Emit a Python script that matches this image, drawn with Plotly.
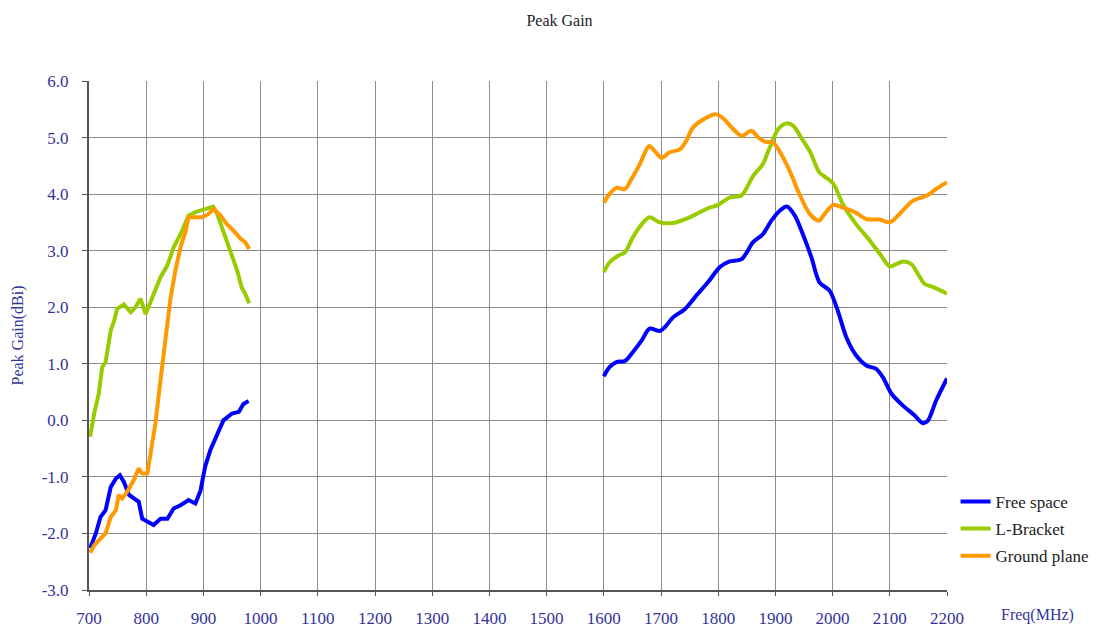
import plotly.graph_objects as go

# Banda baja (700-980 MHz)
f_bajo_free = [702, 712, 720, 729, 738, 747, 754, 761, 770, 778, 787, 793, 802, 813, 825, 837, 848, 860,
               874, 886, 895, 903, 912, 924, 935, 950, 962, 970, 979]
g_bajo_free = [-2.26, -2.0, -1.71, -1.59, -1.18, -1.03, -0.97, -1.09, -1.32, -1.38, -1.44, -1.74, -1.79,
               -1.85, -1.74, -1.74, -1.56, -1.5, -1.41, -1.47, -1.24, -0.82, -0.53, -0.24, 0.0, 0.12,
               0.15, 0.29, 0.34]

f_bajo_lb = [702, 709, 717, 723, 729, 738, 744, 749, 761, 773, 781, 790, 799, 808, 816, 825, 837, 848,
             860, 874, 886, 901, 917, 924, 935, 947, 959, 967, 973, 980]
g_bajo_lb = [-0.29, 0.12, 0.47, 0.94, 1.03, 1.59, 1.76, 1.97, 2.05, 1.91, 2.0, 2.15, 1.88, 2.12, 2.29,
             2.53, 2.74, 3.06, 3.29, 3.62, 3.68, 3.72, 3.78, 3.65, 3.35, 3.0, 2.65, 2.35, 2.24, 2.07]

f_bajo_gp = [702, 709, 720, 729, 738, 747, 752, 758, 767, 778, 787, 793, 802, 808, 816, 825, 834, 842,
             851, 860, 869, 874, 886, 898, 909, 918, 930, 941, 953, 965, 973, 980]
g_bajo_gp = [-2.34, -2.21, -2.09, -2.0, -1.71, -1.59, -1.32, -1.38, -1.26, -1.06, -0.85, -0.94, -0.94,
             -0.59, -0.06, 0.71, 1.41, 2.12, 2.65, 3.06, 3.35, 3.59, 3.59, 3.59, 3.65, 3.74, 3.62,
             3.47, 3.35, 3.21, 3.15, 3.03]

# Banda alta (1600-2200 MHz)
f_alto_free = [1600, 1610, 1622, 1637, 1651, 1666, 1680, 1698, 1707, 1721, 1742, 1762, 1782, 1803, 1820,
               1841, 1861, 1878, 1893, 1908, 1920, 1934, 1948, 1963, 1977, 1995, 2009, 2024, 2041,
               2059, 2076, 2088, 2103, 2123, 2143, 2158, 2167, 2181, 2200]
g_alto_free = [0.78, 0.94, 1.03, 1.05, 1.21, 1.41, 1.62, 1.58, 1.65, 1.82, 1.97, 2.21, 2.44, 2.71, 2.81,
               2.85, 3.15, 3.29, 3.53, 3.71, 3.78, 3.62, 3.29, 2.88, 2.44, 2.29, 1.94, 1.47, 1.15,
               0.97, 0.91, 0.76, 0.47, 0.26, 0.09, -0.05, 0.0, 0.35, 0.74]

f_alto_lb = [1600, 1610, 1625, 1637, 1651, 1669, 1680, 1698, 1721, 1750, 1768, 1782, 1800, 1820, 1841,
             1861, 1878, 1890, 1905, 1919, 1931, 1945, 1960, 1977, 1986, 2001, 2018, 2041, 2065,
             2085, 2100, 2111, 2123, 2138, 2149, 2161, 2175, 2200]
g_alto_lb = [2.62, 2.79, 2.91, 2.97, 3.24, 3.5, 3.59, 3.5, 3.49, 3.59, 3.68, 3.75, 3.81, 3.94, 3.98,
             4.32, 4.53, 4.82, 5.15, 5.25, 5.21, 5.0, 4.76, 4.38, 4.31, 4.19, 3.82, 3.47, 3.18,
             2.91, 2.72, 2.76, 2.81, 2.76, 2.59, 2.41, 2.36, 2.24]

f_alto_gp = [1600, 1610, 1622, 1637, 1648, 1663, 1679, 1689, 1701, 1715, 1733, 1744, 1756, 1774, 1797,
             1811, 1826, 1841, 1858, 1870, 1881, 1896, 1910, 1925, 1942, 1960, 1976, 1986, 2001,
             2018, 2039, 2059, 2082, 2100, 2117, 2140, 2164, 2181, 2200]
g_alto_gp = [3.85, 4.0, 4.11, 4.09, 4.26, 4.53, 4.85, 4.76, 4.64, 4.74, 4.79, 4.94, 5.18, 5.32, 5.41,
             5.32, 5.15, 5.03, 5.12, 5.0, 4.93, 4.91, 4.71, 4.41, 4.0, 3.65, 3.53, 3.65, 3.81,
             3.76, 3.68, 3.56, 3.55, 3.5, 3.65, 3.88, 3.97, 4.09, 4.21]

series = [
    ("Free space", "#0000FF", f_bajo_free, g_bajo_free, f_alto_free, g_alto_free),
    ("L-Bracket", "#99CC00", f_bajo_lb, g_bajo_lb, f_alto_lb, g_alto_lb),
    ("Ground plane", "#FF9900", f_bajo_gp, g_bajo_gp, f_alto_gp, g_alto_gp),
]

SERIF = "Liberation Serif"
AZUL = "#333399"

fig = go.Figure()
for nombre, color, fb, gb, fa, ga in series:
    fig.add_trace(go.Scatter(x=fb, y=gb, mode="lines", name=nombre, legendgroup=nombre,
                             line=dict(color=color, width=4)))
    fig.add_trace(go.Scatter(x=fa, y=ga, mode="lines", name=nombre, legendgroup=nombre,
                             showlegend=False,
                             line=dict(color=color, width=4, shape="spline", smoothing=0.8)))

# la pagina tiene 8px de margen en el body, se compensa en los margenes
fig.update_layout(
    width=1103, height=631,
    margin=dict(l=81, r=164, t=73, b=49),
    plot_bgcolor="white", paper_bgcolor="white",
    font=dict(family=SERIF, size=17, color=AZUL),
    title=dict(text="Peak Gain", x=0.5, xanchor="center", y=0.98, yanchor="middle",
               font=dict(family=SERIF, size=16, color="#222222")),
    showlegend=True,
    legend=dict(x=1.01, xanchor="left", y=0.12, yanchor="middle",
                font=dict(family=SERIF, size=17, color="#222222"),
                bgcolor="rgba(0,0,0,0)", tracegroupgap=2, itemwidth=30),
    xaxis=dict(range=[700, 2200], tickmode="array", automargin=False,
               tickvals=list(range(700, 2201, 100)), ticktext=[str(v) for v in range(700, 2201, 100)],
               showgrid=True, gridcolor="#8C8C8C", gridwidth=1,
               showline=True, linecolor="#555555", linewidth=2,
               ticks="outside", ticklen=4, tickcolor="#555555", ticklabelstandoff=8,
               tickfont=dict(family=SERIF, size=17, color=AZUL), zeroline=False),
    yaxis=dict(range=[-3, 6], tickmode="array", automargin=False,
               tickvals=[-3, -2, -1, 0, 1, 2, 3, 4, 5, 6],
               ticktext=["-3.0", "-2.0", "-1.0", "0.0", "1.0", "2.0", "3.0", "4.0", "5.0", "6.0"],
               showgrid=True, gridcolor="#8C8C8C", gridwidth=1,
               showline=True, linecolor="#555555", linewidth=2,
               ticks="outside", ticklen=5, tickcolor="#555555", ticklabelstandoff=10,
               tickfont=dict(family=SERIF, size=17, color=AZUL), zeroline=False,
               title=dict(text="Peak Gain(dBi)", standoff=14,
                          font=dict(family=SERIF, size=16, color=AZUL))),
)

# titulo eje x a la derecha del eje
fig.add_annotation(text="Freq(MHz)", xref="paper", yref="paper", x=1.0, y=-0.05,
                   xanchor="left", xshift=52, yanchor="middle", showarrow=False,
                   font=dict(family=SERIF, size=16, color=AZUL))

fig.write_html("out.html")
